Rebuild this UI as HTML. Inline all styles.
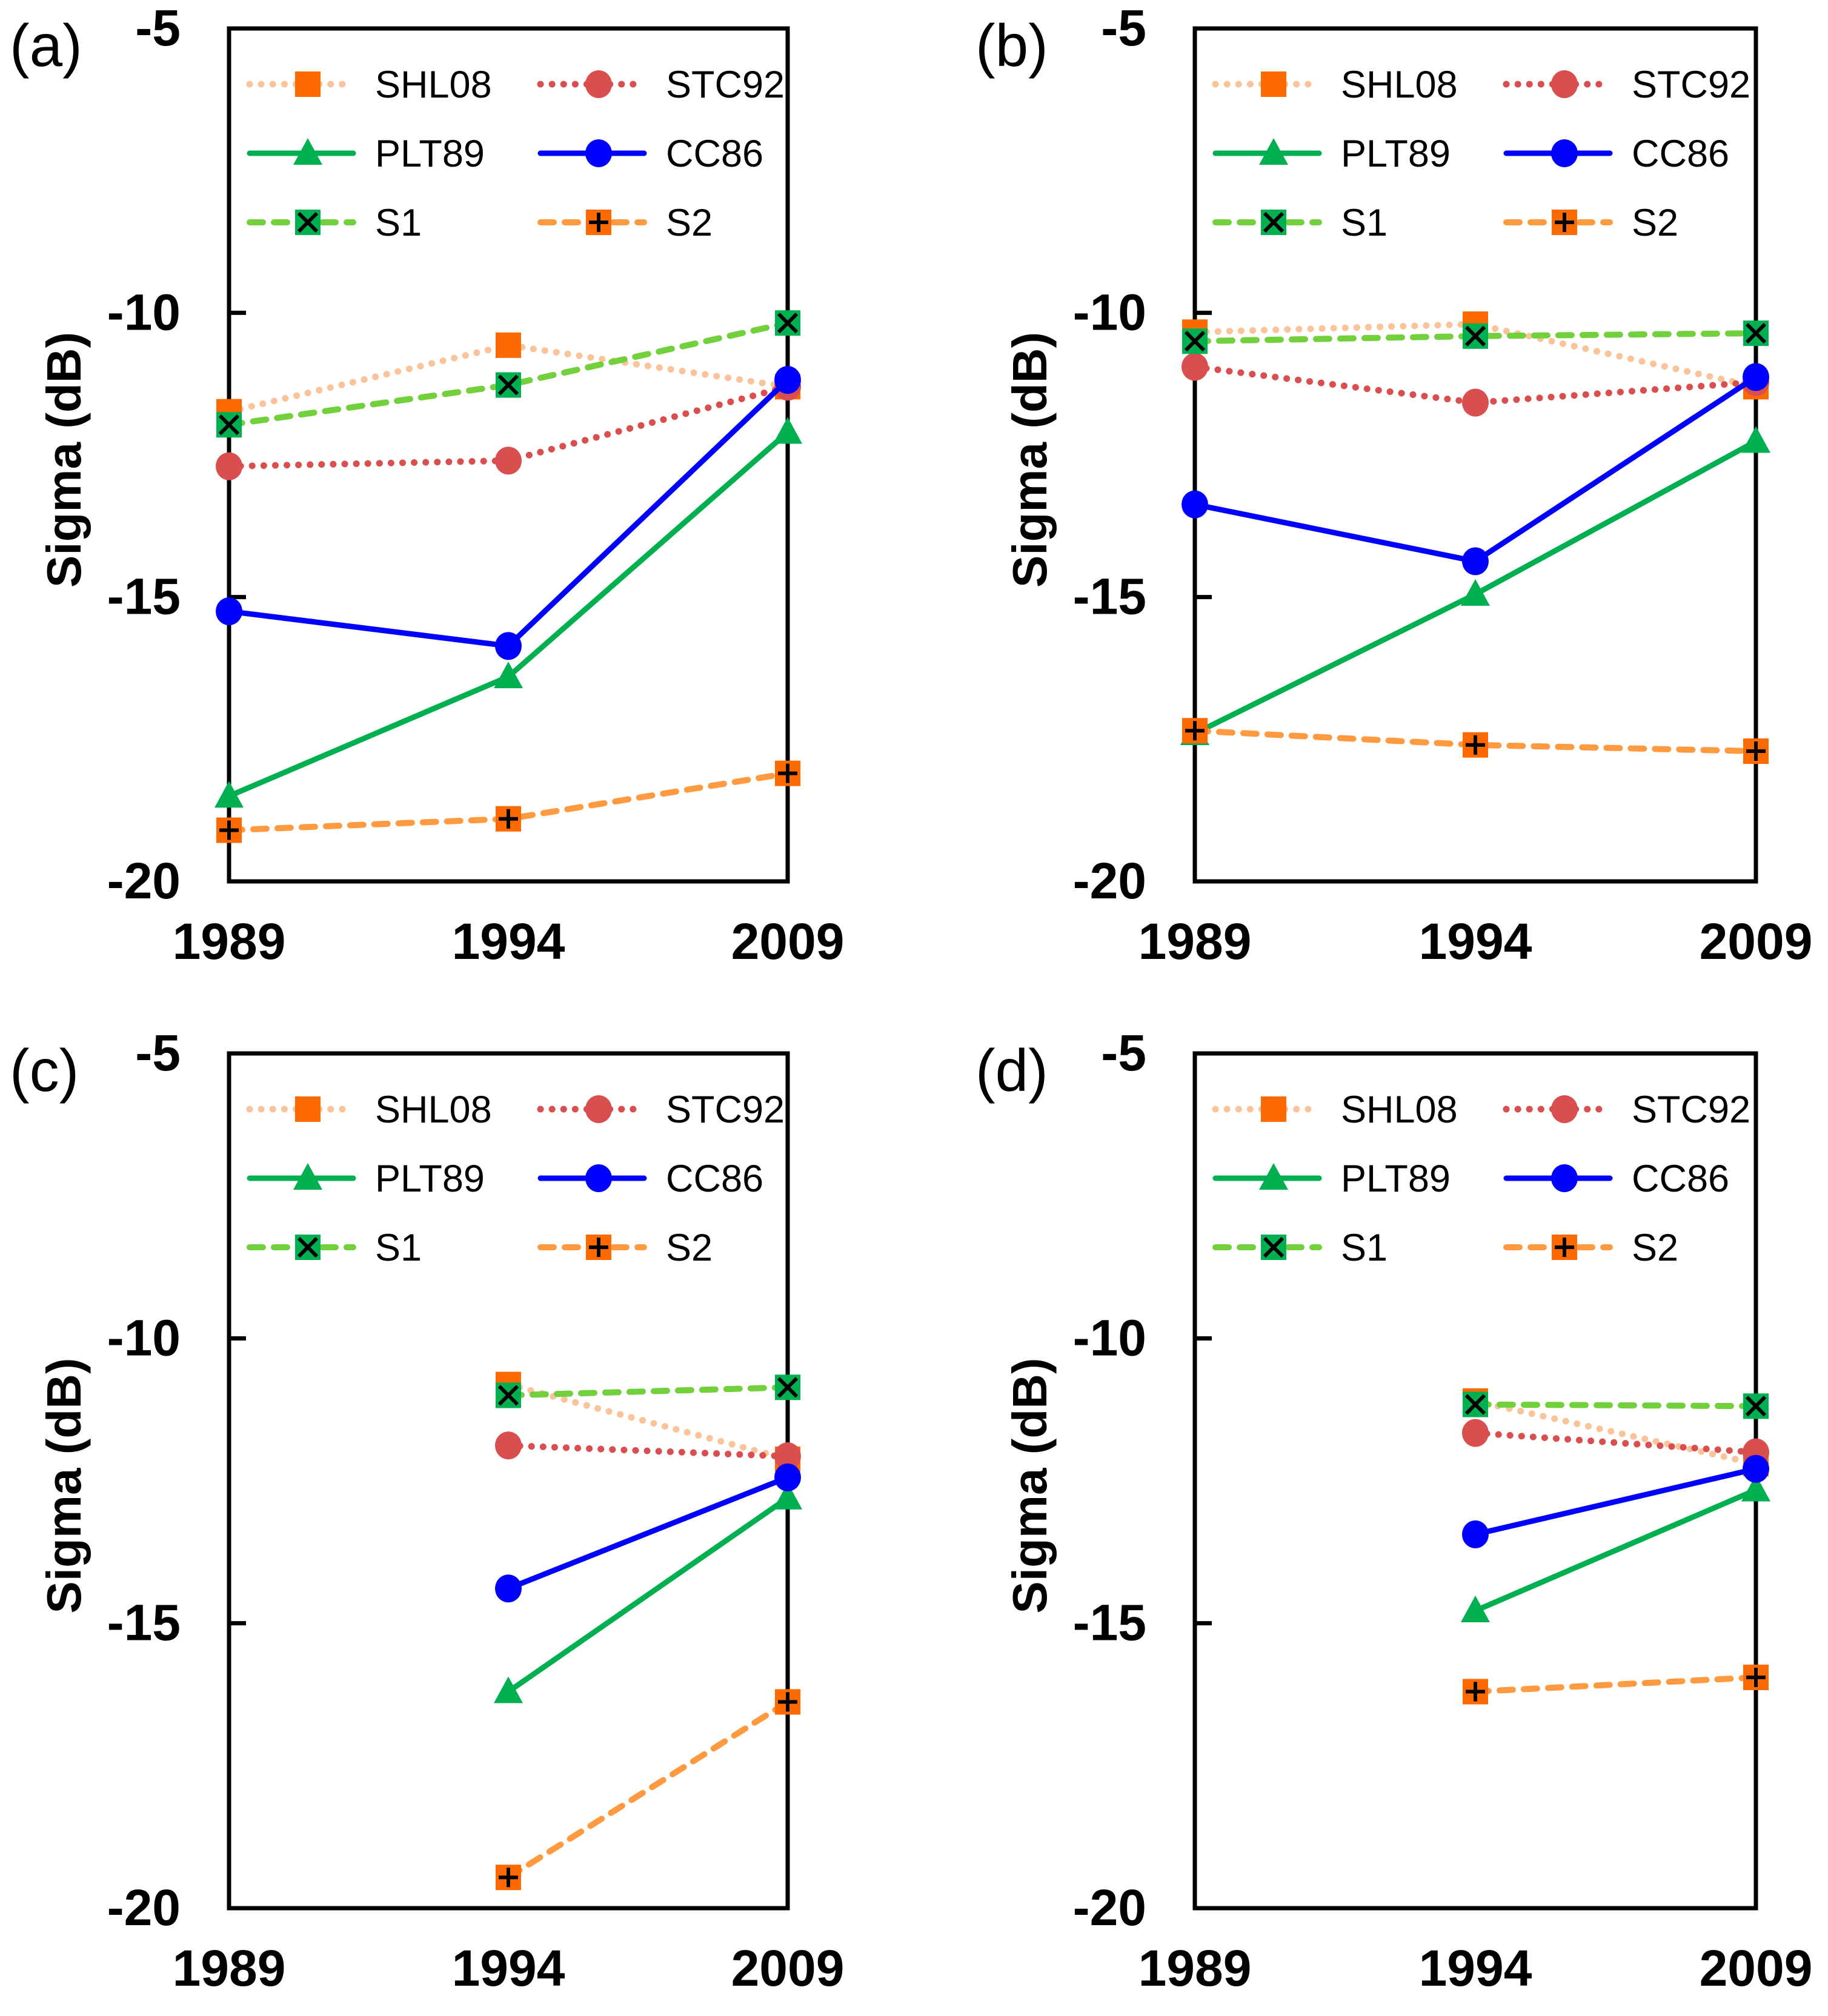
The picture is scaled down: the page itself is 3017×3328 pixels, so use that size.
<!DOCTYPE html>
<html><head><meta charset="utf-8">
<style>
html,body{margin:0;padding:0;background:#fff;}
svg{display:block;}
text{font-family:"Liberation Sans",sans-serif;}
</style></head>
<body>
<svg id="chart" width="3017" height="3328" viewBox="0 0 3017 3328" xmlns="http://www.w3.org/2000/svg"></svg>
<script>
const categories = ["1989","1994","2009"];
const yTicks = [-5,-10,-15,-20];
const seriesNames = ["SHL08","STC92","PLT89","CC86","S1","S2"];
const panelLabels = ["(a)","(b)","(c)","(d)"];
// values per panel, per series [1989,1994,2009]; null = missing
const aSHL08=[-11.74,-10.57,-11.3], aSTC92=[-12.7,-12.6,-11.3], aPLT89=[-18.5,-16.4,-12.1], aCC86=[-15.25,-15.86,-11.18], aS1=[-11.97,-11.27,-10.18], aS2=[-19.1,-18.9,-18.1];
const bSHL08=[-10.34,-10.2,-11.3], bSTC92=[-10.95,-11.58,-11.22], bPLT89=[-17.4,-14.95,-12.26], bCC86=[-13.37,-14.37,-11.13], bS1=[-10.5,-10.41,-10.36], bS2=[-17.35,-17.6,-17.71];
const cSHL08=[null,-10.81,-12.12], cSTC92=[null,-11.88,-12.07], cPLT89=[null,-16.2,-12.8], cCC86=[null,-14.39,-12.44], cS1=[null,-11.0,-10.86], cS2=[null,-19.46,-16.38];
const dSHL08=[null,-11.1,-12.2], dSTC92=[null,-11.66,-12.0], dPLT89=[null,-14.78,-12.66], dCC86=[null,-13.44,-12.29], dS1=[null,-11.16,-11.19], dS2=[null,-16.2,-15.95];
const panelData = [
 [aSHL08,aSTC92,aPLT89,aCC86,aS1,aS2],
 [bSHL08,bSTC92,bPLT89,bCC86,bS1,bS2],
 [cSHL08,cSTC92,cPLT89,cCC86,cS1,cS2],
 [dSHL08,dSTC92,dPLT89,dCC86,dS1,dS2]
];

const NS="http://www.w3.org/2000/svg";
const svg=document.getElementById('chart');
function mk(tag,attrs,parent){const e=document.createElementNS(NS,tag);for(const k in attrs)e.setAttribute(k,attrs[k]);(parent||svg).appendChild(e);return e;}

const styles=[
 {line:"#fbc39a",dash:"0.1 19",cap:"round",w:11,marker:"square",fill:"#ff6a00"},
 {line:"#d94e4e",dash:"0.1 19",cap:"round",w:11,marker:"circle",fill:"#d94e4e"},
 {line:"#00b050",dash:"",cap:"round",w:9,marker:"triangle",fill:"#00b050"},
 {line:"#0000ff",dash:"",cap:"round",w:9,marker:"circle",fill:"#0000ff"},
 {line:"#72d03c",dash:"22 18",cap:"round",w:10,marker:"sqx",fill:"#00b050"},
 {line:"#ff9a40",dash:"22 18",cap:"round",w:10,marker:"sqplus",fill:"#ff6a00"}
];

const panels=[
 {x0:378,x1:1300,y0:47,y1:1455},
 {x0:1972,x1:2898,y0:47,y1:1455},
 {x0:378,x1:1300,y0:1739,y1:3150},
 {x0:1972,x1:2898,y0:1739,y1:3150}
];

function drawMarker(g,type,cx,cy,fill){
  const s=42;
  if(type==="square"){mk('rect',{x:cx-s/2,y:cy-s/2,width:s,height:s,fill:fill},g);}
  else if(type==="circle"){mk('ellipse',{cx:cx,cy:cy,rx:22,ry:23,fill:fill},g);}
  else if(type==="triangle"){mk('polygon',{points:`${cx},${cy-25} ${cx+24},${cy+19} ${cx-24},${cy+19}`,fill:fill},g);}
  else if(type==="sqx"){mk('rect',{x:cx-s/2,y:cy-s/2,width:s,height:s,fill:fill},g);
    mk('path',{d:`M${cx-15},${cy-15}L${cx+15},${cy+15}M${cx+15},${cy-15}L${cx-15},${cy+15}`,stroke:"#000","stroke-width":6},g);}
  else if(type==="sqplus"){mk('rect',{x:cx-s/2,y:cy-s/2,width:s,height:s,fill:fill},g);
    mk('path',{d:`M${cx-16},${cy}L${cx+16},${cy}M${cx},${cy-16}L${cx},${cy+16}`,stroke:"#000","stroke-width":6},g);}
}

panels.forEach((p,pi)=>{
  const g=mk('g',{});
  
  
  const xs=i=>p.x0+(p.x1-p.x0)*i/(categories.length-1);
  const ys=v=>p.y0+(p.y1-p.y0)*(v-(-5))/(-20-(-5));
  const fr=mk('rect',{x:p.x0,y:p.y0,width:p.x1-p.x0,height:p.y1-p.y0,fill:"none",stroke:"#000","stroke-width":7},g);
  
  
  yTicks.forEach(t=>{
    const y=ys(t);
    mk('line',{x1:p.x0,x2:p.x0+28,y1:y,y2:y,stroke:"#000","stroke-width":7},g);
    const tx=mk('text',{x:p.x0-80,y:y+28,"text-anchor":"end","font-size":84,"font-weight":"bold"},g);
    tx.textContent=String(t);
    
    
  });
  categories.forEach((c,i)=>{
    const tx=mk('text',{x:xs(i),y:p.y1+128,"text-anchor":"middle","font-size":84,"font-weight":"bold"},g);
    tx.textContent=c;
    
    
  });
  const at=mk('text',{x:0,y:0,"text-anchor":"middle","font-size":80,"font-weight":"bold",transform:`translate(${p.x0-245},${(p.y0+p.y1)/2+8}) rotate(-90)`},g);
  at.textContent="Sigma (dB)";
  
  
  const pl=mk('text',{x:p.x0-362,y:p.y0+62,"font-size":98},g);
  pl.textContent=panelLabels[pi];
  
  
  panelData[pi].forEach((vals,si)=>{
    const st=styles[si];
    const sg=mk('g',{},g);
    
    
    const pts=[];
    vals.forEach((v,i)=>{if(v!==null)pts.push([xs(i),ys(v)]);});
    const ln=mk('polyline',{points:pts.map(q=>q.join(',')).join(' '),fill:"none",stroke:st.line,"stroke-width":st.w,"stroke-linecap":st.cap,"stroke-dasharray":st.dash},sg);
    
    
    pts.forEach(q=>drawMarker(sg,st.marker,q[0],q[1],st.fill));
  });
  const lg=mk('g',{},g);
  
  
  seriesNames.forEach((n,si)=>{
    const col=si%2, row=Math.floor(si/2);
    const lx=p.x0+34+col*480, ly=p.y0+92+row*114;
    const st=styles[si];
    const eg=mk('g',{},lg);
    
    
    mk('line',{x1:lx,x2:lx+171,y1:ly,y2:ly,stroke:st.line,"stroke-width":st.w,"stroke-linecap":st.cap,"stroke-dasharray":st.dash},eg);
    drawMarker(eg,st.marker,lx+96,ly,st.fill);
    const t=mk('text',{x:lx+207,y:ly+22,"font-size":63},eg);
    t.textContent=n;
  });
});
</script>
</body></html>
